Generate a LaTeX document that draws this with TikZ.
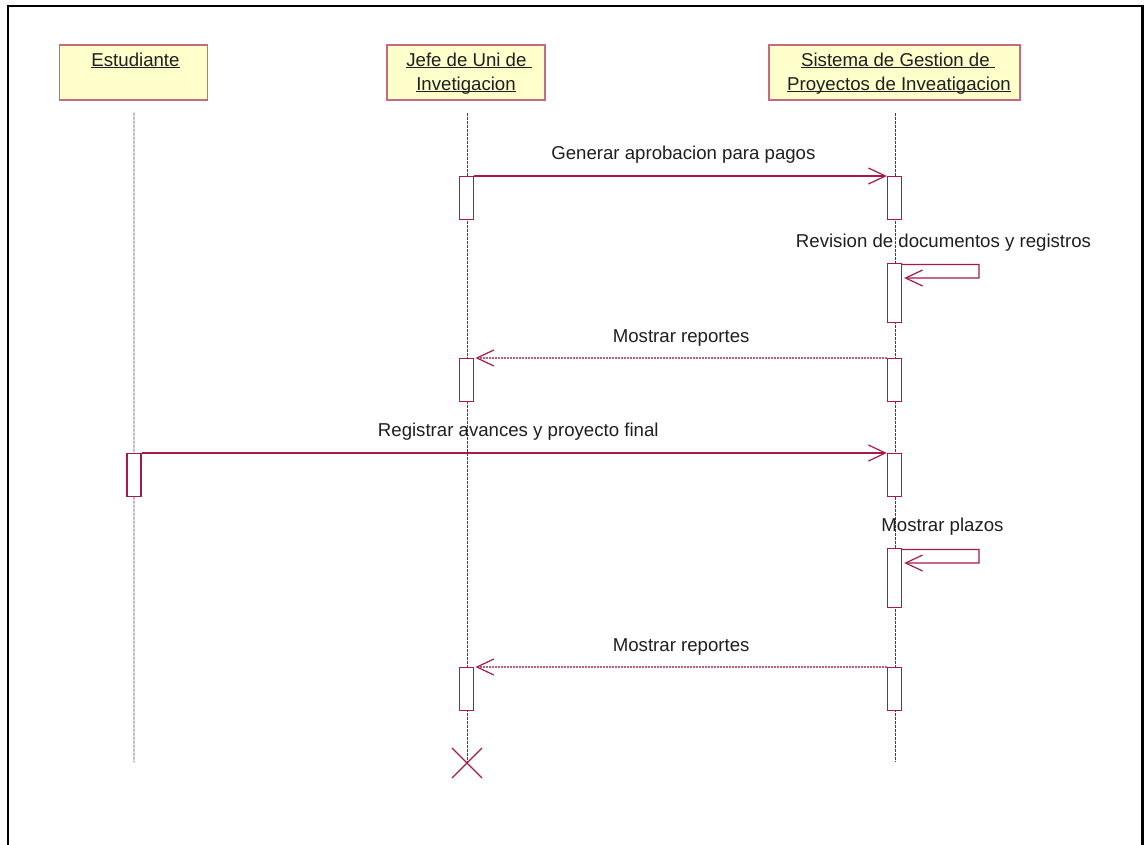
\documentclass[tikz,border=0pt]{standalone}
\usepackage{fontspec}
\setmainfont{Liberation Sans}
\usetikzlibrary{arrows.meta,calc}

\definecolor{umlred}{RGB}{165,25,75}
\definecolor{actorline}{RGB}{200,105,130}
\definecolor{actorfill}{RGB}{255,255,204}

% underlined object name, rule kept just under the baseline
\newcommand\actorname[1]{\underline{\smash{#1}}}

\begin{document}
\begin{tikzpicture}[x=1bp,y=-1bp,
  every node/.style={font=\fontsize{18.7}{24}\selectfont, text=black!88},
  actor/.style={draw=actorline, fill=actorfill, line width=1.6bp, minimum height=55bp, inner sep=0, anchor=north},
  aname/.style={anchor=base, inner sep=0},
  act/.style={draw=umlred, fill=white, line width=1.4bp, minimum width=14bp, inner sep=0, anchor=north},
  life/.style={draw=black!75, line width=0.9bp, dash pattern=on 3bp off 1bp},
  msg/.style={draw=umlred, line width=1.2bp, -{Straight Barb[length=17bp,width=16bp,color=umlred]}},
  ret/.style={msg, draw=umlred!70, dash pattern=on 2bp off 1bp},
  lbl/.style={anchor=base, inner sep=0},
  xmark/.style={draw=umlred, line width=1.2bp},
]
\useasboundingbox (0,0) rectangle (1145,845);

% outer frame
\draw[line width=2.2bp] (7.8,845) -- (7.8,5.7) -- (1142.5,5.7) -- (1142.5,845);

% objects
\node[actor, minimum width=148bp] (est) at (133.5,44) {};
\node[aname] (estn) at (135.5,66) {\actorname{Estudiante}};
\node[actor, minimum width=158bp] (jefe) at (466,44) {};
\node[aname] (jefen1) at (469,66) {\actorname{Jefe de Uni de\ }};
\node[aname] (jefen2) at (466,90) {\actorname{Invetigacion}};
\node[actor, minimum width=251bp] (sis) at (894.5,44) {};
\node[aname] (sisn1) at (898,66) {\actorname{Sistema de Gestion de\ }};
\node[aname] (sisn2) at (899,90) {\actorname{Proyectos de Inveatigacion}};

% lifelines
\coordinate (estend) at (134,762);
\coordinate (jefeend) at (467,763);
\coordinate (sisend) at (895.5,762);
\draw[life] ([xshift=0.5bp,yshift=-12bp]est.south) -- (estend);
\draw[life] ([xshift=1bp,yshift=-12bp]jefe.south) -- (jefeend);
\draw[life] ([xshift=1bp,yshift=-12bp]sis.south) -- (sisend);

% activation bars
\node[act, minimum height=43bp] (j1) at (466.3,176) {};
\node[act, minimum height=43bp] (s1) at (894.5,176) {};
\node[act, minimum height=59bp] (s2) at (894.5,263) {};
\node[act, minimum height=43bp] (s3) at (894.5,358) {};
\node[act, minimum height=43bp] (j3) at (466.3,358) {};
\node[act, minimum height=43bp] (e4) at (134,453) {};
\node[act, minimum height=43bp] (s4) at (894.5,453) {};
\node[act, minimum height=59bp] (s5) at (894.5,548) {};
\node[act, minimum height=43bp] (s6) at (894.5,667) {};
\node[act, minimum height=43bp] (j6) at (466.3,667) {};

% messages
\draw[msg] (j1.north east) -- (s1.north west)
  node[lbl, midway, yshift=16.5bp, xshift=3bp] (m1) {Generar aprobacion para pagos};

\coordinate (r2a) at (979,264.5);
\coordinate (r2b) at (979,278);
\draw[msg] ([yshift=-1.5bp]s2.north east) -- (r2a) -- (r2b) -- ([xshift=2bp]s2.east |- r2b);
\node[lbl] (m2) at ([xshift=49bp,yshift=16bp]s2.north) {Revision de documentos y registros};

\draw[ret] (s3.north west) -- ([xshift=1.5bp]j3.north east)
  node[lbl, midway, yshift=15.5bp] (m3) {Mostrar reportes};

\draw[msg] (e4.north east) -- (s4.north west)
  node[lbl, midway, yshift=16.5bp, xshift=4bp] (m4) {Registrar avances y proyecto final};

\coordinate (r5a) at (979,549.5);
\coordinate (r5b) at (979,563);
\draw[msg] ([yshift=-1.5bp]s5.north east) -- (r5a) -- (r5b) -- ([xshift=2bp]s5.east |- r5b);
\node[lbl] (m5) at ([xshift=48bp,yshift=16.5bp]s5.north) {Mostrar plazos};

\draw[ret] (s6.north west) -- ([xshift=1.5bp]j6.north east)
  node[lbl, midway, yshift=16bp] (m6) {Mostrar reportes};

% destruction mark
\draw[xmark] ([shift={(-15bp,-15bp)}]jefeend) -- ([shift={(15bp,15bp)}]jefeend);
\draw[xmark] ([shift={(-15bp,15bp)}]jefeend) -- ([shift={(15bp,-15bp)}]jefeend);
\end{tikzpicture}
\end{document}
